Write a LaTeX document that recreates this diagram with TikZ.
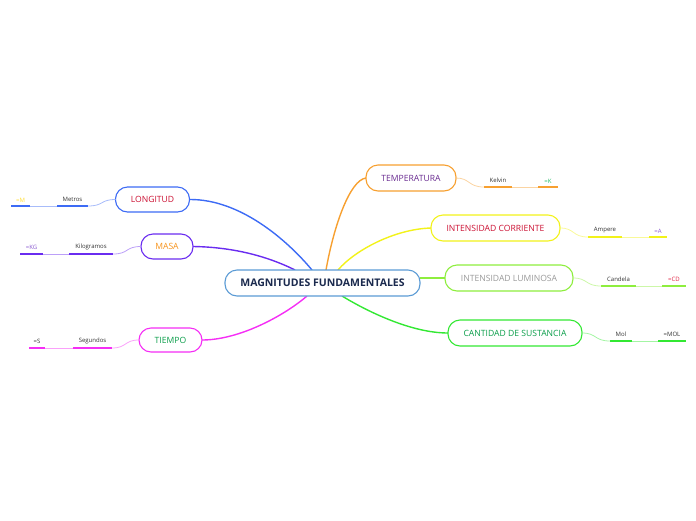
\documentclass[tikz,border=0pt]{standalone}
\usepackage{fontspec}
\setmainfont{Open Sans}
\usetikzlibrary{calc,backgrounds}
\definecolor{cBorder}{HTML}{5B9BD5}
\definecolor{cNavy}{HTML}{1B2A4E}
\definecolor{cBlue}{HTML}{3D6BF5}
\definecolor{cPurple}{HTML}{6A2CF0}
\definecolor{cMag}{HTML}{F52EF5}
\definecolor{cOrange}{HTML}{F7A030}
\definecolor{cYellow}{HTML}{F2F21A}
\definecolor{cLGreen}{HTML}{8EEE3E}
\definecolor{cGreen}{HTML}{33E833}
\definecolor{tRed}{HTML}{CC1133}
\definecolor{tOrange}{HTML}{F7941D}
\definecolor{tGreen}{HTML}{0A9E4A}
\definecolor{tPurple}{HTML}{6A2C91}
\definecolor{tGray}{HTML}{9A9A9A}
\definecolor{tDark}{HTML}{333333}
\definecolor{tYel}{HTML}{FFDD33}
\definecolor{tVio}{HTML}{8A5AD0}
\definecolor{tMint}{HTML}{22BB66}
\definecolor{tPink}{HTML}{E02040}
\tikzset{
  every node/.style={inner sep=0pt, outer sep=0pt},
  mainbox/.style={draw=cBorder, line width=1.1pt, rounded corners=12pt, fill=white,
    minimum width=195pt, minimum height=26pt, text=cNavy, font=\bfseries\fontsize{10.5}{12}\selectfont},
  branch/.style={draw=#1, line width=1.1pt, rounded corners=12pt, fill=white,
    minimum height=25pt, font=\fontsize{8.6}{10}\selectfont},
  sub/.style={anchor=south, inner ysep=4pt, font=\fontsize{6}{7}\selectfont},
  ul/.style={line width=1.8pt, draw=#1},
  thinl/.style={line width=0.8pt, draw=#1!45},
  conn/.style={line width=1.4pt, draw=#1},
}
\begin{document}
\begin{tikzpicture}[x=1pt,y=-1pt]
\useasboundingbox (0,0) rectangle (696,520);

\node[mainbox] (main) at (322.5,283) {MAGNITUDES FUNDAMENTALES};

\node[branch=cBlue, minimum width=74pt, text=tRed] (lon) at (152.5,199.5) {LONGITUD};
\node[branch=cPurple, minimum width=52pt, text=tOrange] (mas) at (167,246.5) {MASA};
\node[branch=cMag, minimum width=63pt, minimum height=24pt, text=tGreen] (tie) at (170.5,340) {TIEMPO};
\node[branch=cOrange, minimum width=90pt, minimum height=26pt, text=tPurple] (tem) at (411,178) {TEMPERATURA};
\node[branch=cYellow, minimum width=129pt, minimum height=26pt, text=tRed] (cor) at (495.5,228) {INTENSIDAD CORRIENTE};
\node[branch=cLGreen, minimum width=128pt, minimum height=26pt, text=tGray] (lum) at (509,278) {INTENSIDAD LUMINOSA};
\node[branch=cGreen, minimum width=134pt, minimum height=26pt, text=tGreen] (can) at (515,333) {CANTIDAD DE SUSTANCIA};

% connectors behind the nodes
\begin{scope}[on background layer]
\draw[conn=cBlue] (lon.east) .. controls (240,199) and (287,240) .. ($(main.north)+(-10.5,0)$);
\draw[conn=cPurple] (mas.east) .. controls (230,247) and (265,255) .. ($(main.north)+(-27.5,0)$);
\draw[conn=cMag] (tie.east) .. controls (240,340) and (285,315) .. ($(main.south)+(-15.5,0)$);
\draw[conn=cOrange] (tem.west) .. controls (350,180) and (334,225) .. ($(main.north)+(3.5,0)$);
\draw[conn=cYellow] (cor.west) .. controls (395,229) and (355,250) .. ($(main.north)+(15.5,0)$);
\draw[conn=cGreen] (can.west) .. controls (410,333) and (365,310) .. ($(main.south)+(19.5,0)$);
\draw[conn=cLGreen] (lum.west) -- (lum.west -| main.east);
\end{scope}

% sub nodes: left side
\node[sub, minimum width=31pt, text=tDark] (met) at (72.5,206) {Metros};
\node[sub, minimum width=19pt, text=tYel] (eqm) at (20.5,206) {=M};
\node[sub, minimum width=44pt, text=tDark] (kil) at (91,254) {Kilogramos};
\node[sub, minimum width=23pt, text=tVio] (eqkg) at (31.5,254) {=KG};
\node[sub, minimum width=39pt, text=tDark] (seg) at (92.5,348) {Segundos};
\node[sub, minimum width=16pt, text=tDark] (eqs) at (37,348) {=S};
% right side
\node[sub, minimum width=28pt, text=tDark] (kel) at (498,187) {Kelvin};
\node[sub, minimum width=20pt, text=tMint] (eqk) at (548,187) {=K};
\node[sub, minimum width=34pt, text=tDark] (amp) at (605,237) {Ampere};
\node[sub, minimum width=18pt, text=tVio] (eqa) at (658,237) {=A};
\node[sub, minimum width=35pt, text=tDark] (cand) at (618.5,286) {Candela};
\node[sub, minimum width=24pt, text=tPink] (eqcd) at (674,286) {=CD};
\node[sub, minimum width=22pt, text=tDark] (mol) at (621,341) {Mol};
\node[sub, minimum width=28pt, text=tDark] (eqmol) at (672,341) {=MOL};

% underlines
\foreach \n/\c in {met/cBlue,eqm/cBlue,kil/cPurple,eqkg/cPurple,seg/cMag,eqs/cMag,
  kel/cOrange,eqk/cOrange,amp/cYellow,eqa/cYellow,cand/cLGreen,eqcd/cLGreen,mol/cGreen,eqmol/cGreen}
  {\draw[ul=\c] (\n.south west) -- (\n.south east);}

% thin links
\draw[thinl=cBlue] (eqm.south east) -- (met.south west);
\draw[thinl=cBlue] (met.south east) .. controls (104,206) and (100,199.5) .. (lon.west);
\draw[thinl=cPurple] (eqkg.south east) -- (kil.south west);
\draw[thinl=cPurple] (kil.south east) .. controls (129,254) and (125,246.5) .. (mas.west);
\draw[thinl=cMag] (eqs.south east) -- (seg.south west);
\draw[thinl=cMag] (seg.south east) .. controls (127,348) and (124,340) .. (tie.west);

\draw[thinl=cOrange] (tem.east) .. controls (470,178) and (468,187) .. (kel.south west);
\draw[thinl=cOrange] (kel.south east) -- (eqk.south west);
\draw[thinl=cYellow] (cor.east) .. controls (575,228) and (572,237) .. (amp.south west);
\draw[thinl=cYellow] (amp.south east) -- (eqa.south west);
\draw[thinl=cLGreen] (lum.east) .. controls (588,278) and (585,286) .. (cand.south west);
\draw[thinl=cLGreen] (cand.south east) -- (eqcd.south west);
\draw[thinl=cGreen] (can.east) .. controls (597,333) and (594,341) .. (mol.south west);
\draw[thinl=cGreen] (mol.south east) -- (eqmol.south west);
\end{tikzpicture}
\end{document}
